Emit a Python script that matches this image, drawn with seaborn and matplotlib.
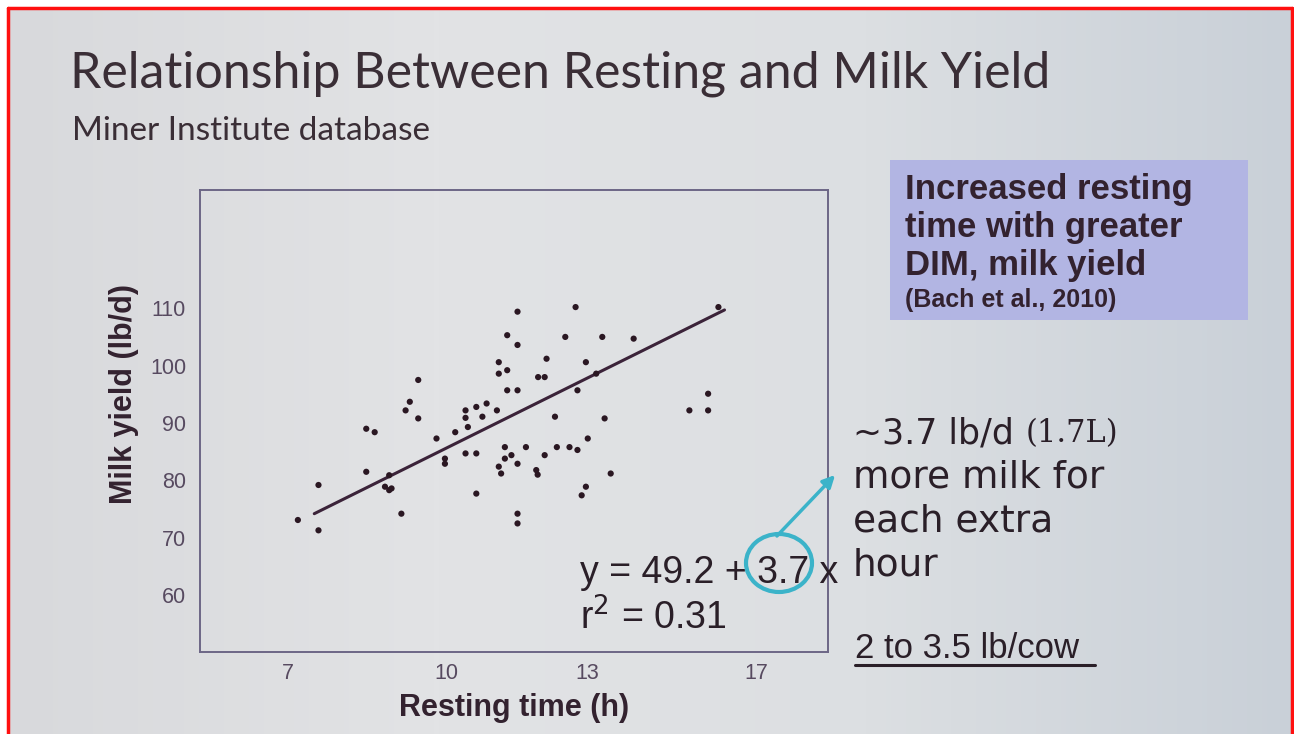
import numpy as np
import matplotlib
matplotlib.use("Agg")
import matplotlib.pyplot as plt
from matplotlib.patches import Rectangle, Ellipse, FancyArrowPatch
from matplotlib.colors import LinearSegmentedColormap
import seaborn as sns
import pandas as pd

# ==========================================
# Data
# ==========================================
rest_h = [7.22, 7.66, 7.66, 8.68, 8.86, 8.68, 9.17, 9.17, 9.22, 9.08, 9.43, 9.52, 9.61, 9.79, 9.79,
          10.18, 10.36, 10.36, 10.58, 10.80, 10.80, 10.85, 11.03, 11.16, 11.25, 11.47, 10.80, 11.03,
          11.03, 11.51, 11.51, 11.69, 11.69, 11.91, 11.91, 11.69, 11.91, 11.64, 11.51, 11.56, 11.64,
          11.78, 11.91, 12.09, 12.31, 12.49, 11.91, 11.91, 12.35, 12.49, 12.53, 12.71, 12.75, 12.93,
          13.15, 13.02, 13.19, 13.41, 13.19, 13.37, 13.59, 13.72, 13.77, 13.90, 13.37, 13.28, 14.39,
          15.58, 15.98, 15.98, 16.20, 12.34]
milk_lb = [73.1, 79.2, 71.3, 89.0, 88.4, 81.5, 80.9, 78.3, 78.6, 78.9, 74.2, 92.2, 93.7, 97.5, 90.8,
           87.3, 83.8, 82.9, 88.4, 92.2, 90.9, 89.3, 92.8, 91.1, 93.4, 92.2, 84.7, 84.7,
           77.7, 100.6, 98.6, 99.2, 105.3, 103.6, 109.4, 95.7, 95.7, 85.8, 82.4, 81.2, 83.8,
           84.4, 82.9, 85.8, 81.8, 84.4, 74.2, 72.5, 98.0, 98.0, 101.2, 91.1, 85.8, 105.0,
           110.2, 85.8, 85.3, 87.3, 95.7, 100.6, 98.6, 105.0, 90.8, 81.2, 78.9, 77.4, 104.7,
           92.2, 95.1, 92.2, 110.2, 81.0]

# fitted line ends as drawn on the slide
fit_x = [7.57, 16.33]
fit_y = [74.2, 109.7]

xtick_pos = [7, 10.4, 13.4, 17]
xtick_labels = ["7", "10", "13", "17"]
ytick_vals = [60, 70, 80, 90, 100, 110]

df = pd.DataFrame({"rest": rest_h, "milk": milk_lb})
fit = pd.DataFrame({"rest": fit_x, "milk": fit_y})

# ==========================================
# Figure
# ==========================================
sns.set_theme(style="white")
plt.rcParams['font.family'] = ['Liberation Sans', 'DejaVu Sans']

W, H = 1294, 734
fig = plt.figure(figsize=(W / 100, H / 100), dpi=100)
fig.patch.set_facecolor("white")

def fx(px):
    return px / W

def fy(py):
    return 1 - py / H

# slide background with a soft gradient
bg = fig.add_axes([fx(8), 0, fx(1292) - fx(8), fy(8)])
bg_cmap = LinearSegmentedColormap.from_list("slide", ["#d8d9dc", "#e2e3e5", "#dcdfe2", "#c9d0d8"])
grad = np.linspace(0, 1, 256).reshape(1, -1)
bg.imshow(grad, aspect="auto", cmap=bg_cmap, extent=[0, 1, 0, 1])
bg.set_axis_off()

# red frame (open at the bottom, photo is cropped there)
red = "#ff1010"
for xs, ys in [([8, 8], [8, 734]), ([8, 1292], [8, 8]), ([1292, 1292], [8, 734])]:
    fig.add_artist(plt.Line2D([fx(v) for v in xs], [fy(v) for v in ys], transform=fig.transFigure,
                              color=red, linewidth=2.5, zorder=10))

text_dark = "#33222f"

fig.text(fx(70), fy(74), "Relationship Between Resting and Milk Yield", family=["Lato", "DejaVu Sans"],
         fontsize=36, color="#3a2e36", va="center", ha="left")
fig.text(fx(72), fy(131), "Miner Institute database", family=["Lato", "DejaVu Sans"],
         fontsize=24, color="#3a2e36", va="center", ha="left")

# scatter panel
ax = fig.add_axes([fx(200), fy(652), fx(828) - fx(200), fy(190) - fy(652)])
ax.set_facecolor("none")
sns.scatterplot(data=df, x="rest", y="milk", ax=ax, color="#2a1722", s=20, marker="o",
                edgecolor="none", zorder=3)
sns.lineplot(data=fit, x="rest", y="milk", ax=ax, color="#3b2339", linewidth=2.2, zorder=2)

ax.set_xlim(5.13, 18.54)
ax.set_ylim(50.1, 130.6)
ax.set_xticks(xtick_pos, xtick_labels)
ax.set_yticks(ytick_vals, [str(v) for v in ytick_vals])
ax.tick_params(length=0, labelsize=15.5, labelcolor="#574a60")
ax.tick_params(axis="y", pad=10)
ax.tick_params(axis="x", pad=8)
for s in ax.spines.values():
    s.set_color("#6c6686")
    s.set_linewidth(1.4)
ax.set_xlabel("Resting time (h)", fontsize=22, fontweight="bold", color=text_dark, va="center")
ax.set_ylabel("Milk yield (lb/d)", fontsize=22, fontweight="bold", color=text_dark, va="center")
ax.xaxis.set_label_coords(0.50, -0.121)
ax.yaxis.set_label_coords(-0.121, 0.558)

# equation
fig.text(fx(580), fy(573), "y = 49.2 + 3.7 x", fontsize=27, color="#2a1f28", va="center", ha="left")
fig.text(fx(580), fy(618), "r$^2$ = 0.31", fontsize=27, color="#2a1f28", va="center", ha="left")

# highlight circle and arrow
teal = "#3bb3c9"
fig.add_artist(Ellipse((fx(779), fy(563)), fx(66), 58 / H, transform=fig.transFigure,
                       fill=False, edgecolor=teal, linewidth=3, zorder=6))
fig.add_artist(FancyArrowPatch((fx(775), fy(538)), (fx(837), fy(473)), transform=fig.transFigure,
                               arrowstyle="-|>", mutation_scale=18, color=teal, linewidth=2.5, zorder=6))

# lavender call-out box
fig.add_artist(Rectangle((fx(890), fy(320)), fx(1248) - fx(890), fy(160) - fy(320),
                         transform=fig.transFigure, facecolor="#b2b5e3", edgecolor="none", zorder=4))
for txt, py in [("Increased resting", 189), ("time with greater", 227), ("DIM, milk yield", 265)]:
    fig.text(fx(905), fy(py), txt, fontsize=25, fontweight="bold", color=text_dark,
             va="center", ha="left", zorder=5)
fig.text(fx(905), fy(300), "(Bach et al., 2010)", fontsize=18, fontweight="bold", color=text_dark,
         va="center", ha="left", zorder=5)

# right-hand notes
note_font = ["DejaVu Sans"]
fig.text(fx(853), fy(434), "~3.7 lb/d", family=note_font, fontsize=25, color="#2a1f28", va="center", ha="left")
fig.text(fx(1026), fy(434), "(1.7L)", family=["DejaVu Serif"], fontsize=22, color="#2a1f28", va="center", ha="left")
for txt, py in [("more milk for", 478), ("each extra", 522), ("hour", 566)]:
    fig.text(fx(853), fy(py), txt, family=note_font, fontsize=27, color="#2a1f28", va="center", ha="left")

fig.text(fx(855), fy(649), "2 to 3.5 lb/cow", fontsize=25, color="#2a1f28", va="center", ha="left")
fig.add_artist(plt.Line2D([fx(855), fx(1095)], [fy(665), fy(665)], transform=fig.transFigure,
                          color="#2a1f28", linewidth=2.2))

fig.savefig("out.png", dpi=100)
